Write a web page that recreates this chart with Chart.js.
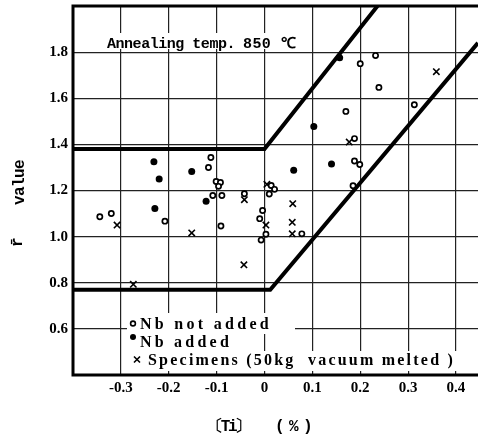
<!DOCTYPE html>
<html><head><meta charset="utf-8">
<script src="https://cdn.jsdelivr.net/npm/chart.js@4.4.1/dist/chart.umd.min.js"></script>
<style>html,body{margin:0;padding:0;background:#fff;}</style>
</head><body>
<canvas id="c" width="478" height="436"></canvas>
<script>
// ---- data ----
const notAddedX = [-0.344,-0.320,-0.208,-0.112,-0.117,-0.101,-0.092,-0.096,-0.089,-0.108,-0.091,-0.042,0.014,0.021,0.010,-0.004,-0.010,0.003,-0.007,0.078,0.188,0.188,0.199,0.185,0.170,0.200,0.232,0.239,0.313];
const notAddedY = [1.086,1.100,1.067,1.343,1.300,1.239,1.235,1.218,1.178,1.178,1.046,1.186,1.222,1.205,1.185,1.113,1.078,1.010,0.985,1.012,1.425,1.328,1.313,1.221,1.543,1.750,1.785,1.647,1.572];
const nbAddedX = [-0.231,-0.220,-0.229,-0.152,-0.122,0.061,0.140,0.103,0.157];
const nbAddedY = [1.325,1.250,1.122,1.282,1.153,1.288,1.315,1.478,1.776];
const specX = [-0.308,-0.274,-0.152,-0.042,-0.043,0.005,0.003,0.059,0.058,0.058,0.177,0.359];
const specY = [1.050,0.793,1.016,1.160,0.878,1.227,1.050,1.143,1.062,1.012,1.410,1.715];
const upperX = [-0.4, 0.0, 0.236];
const upperY = [1.38, 1.38, 2.0];
const lowerX = [-0.4, 0.012, 0.446];
const lowerY = [0.77, 0.77, 1.84];
const xTicks = [-0.3,-0.2,-0.1,0,0.1,0.2,0.3,0.4];
const yTicks = [0.6,0.8,1.0,1.2,1.4,1.6,1.8];
const legendLabels = ['Nb not added','Nb added','Specimens (50kg  vacuum melted )'];
const noteText = ['Annealing temp.', '850 ℃'];
const xTitle = ['〔Ti〕', '(%)'];
const yTitle = ['r\u0304', 'value'];

const pts = (xs, ys) => xs.map((x,i)=>({x, y: ys[i]}));

function fitText(ctx, str, x, y, w){
  ctx.letterSpacing = '0px';
  const m = ctx.measureText(str).width;
  const n = [...str].length;
  const ls = (w - m) / Math.max(1, n);
  ctx.letterSpacing = ls.toFixed(2) + 'px';
  ctx.fillText(str, x, y);
  ctx.letterSpacing = '0px';
}

const decor = {
  id: 'decor',
  beforeDatasetsDraw(chart){
    const ctx = chart.ctx;
    ctx.save();
    // annotation
    ctx.fillStyle = '#fff';
    ctx.fillRect(100, 33, 200, 16);
    ctx.fillStyle = '#000';
    ctx.textBaseline = 'alphabetic';
    ctx.textAlign = 'left';
    ctx.font = 'bold 15px "Liberation Mono"';
    fitText(ctx, noteText[0], 107, 48, 128);
    fitText(ctx, noteText[1], 243, 48, 53);
    // legend backgrounds
    ctx.fillStyle = '#fff';
    ctx.fillRect(127, 313, 168, 21);
    ctx.fillRect(127, 333, 113, 19);
    ctx.fillRect(127, 351, 330, 20);
    ctx.restore();
  },
  afterDatasetsDraw(chart){
    const ctx = chart.ctx, a = chart.chartArea;
    ctx.save();
    // legend markers
    ctx.strokeStyle = '#000'; ctx.fillStyle = '#fff'; ctx.lineWidth = 1.6;
    ctx.beginPath(); ctx.arc(133, 323.5, 2.4, 0, Math.PI*2); ctx.fill(); ctx.stroke();
    ctx.fillStyle = '#000';
    ctx.beginPath(); ctx.arc(133, 337, 3, 0, Math.PI*2); ctx.fill();
    ctx.beginPath();
    ctx.moveTo(134, 356.5); ctx.lineTo(140, 362.5);
    ctx.moveTo(140, 356.5); ctx.lineTo(134, 362.5);
    ctx.stroke();
    // legend text
    ctx.fillStyle = '#000';
    ctx.textBaseline = 'middle'; ctx.textAlign = 'left';
    ctx.font = 'bold 16px "Liberation Serif"';
    fitText(ctx, legendLabels[0], 140, 325, 132);
    fitText(ctx, legendLabels[1], 140, 343, 92);
    fitText(ctx, legendLabels[2], 148, 361, 307);
    // frame
    ctx.strokeStyle = '#000';
    ctx.lineWidth = 3;
    ctx.beginPath();
    ctx.moveTo(a.right, a.top); ctx.lineTo(a.left, a.top); ctx.lineTo(a.left, a.bottom); ctx.lineTo(a.right, a.bottom);
    ctx.stroke();
    // axis titles
    ctx.font = 'bold 16px "Liberation Mono"';
    ctx.textBaseline = 'middle'; ctx.textAlign = 'left';
    fitText(ctx, xTitle[0], 207, 427, 42);
    fitText(ctx, xTitle[1], 275, 427, 42);
    ctx.translate(20, 0);
    ctx.rotate(-Math.PI/2);
    ctx.textAlign = 'left';
    fitText(ctx, yTitle[1], -205, 0, 45);
    fitText(ctx, yTitle[0], -247, -2, 10);
    ctx.restore();
  }
};

const tickFont = {family: '"Liberation Serif"', size: 15, weight: 'bold'};
const noPad = s => { s.paddingLeft = 0; s.paddingRight = 0; s.paddingTop = 0; s.paddingBottom = 0; };

new Chart(document.getElementById('c'), {
  type: 'scatter',
  data: {
    datasets: [
      {label: legendLabels[0], data: pts(notAddedX, notAddedY), pointStyle: 'circle', pointRadius: 2.6, pointBackgroundColor: '#fff', pointBorderColor: '#000', pointBorderWidth: 1.7, order: 0},
      {label: legendLabels[1], data: pts(nbAddedX, nbAddedY), pointStyle: 'circle', pointRadius: 3.5, pointBackgroundColor: '#000', pointBorderColor: '#000', pointBorderWidth: 0, order: 0},
      {label: legendLabels[2], data: pts(specX, specY), pointStyle: 'crossRot', pointRadius: 4.5, pointBorderColor: '#000', pointBorderWidth: 1.6, order: 0},
      {label: 'upper', data: pts(upperX, upperY), showLine: true, pointRadius: 0, borderColor: '#000', borderWidth: 4, order: 1},
      {label: 'lower', data: pts(lowerX, lowerY), showLine: true, pointRadius: 0, borderColor: '#000', borderWidth: 4, order: 1}
    ]
  },
  options: {
    responsive: false,
    animation: false,
    devicePixelRatio: 1,
    layout: {autoPadding: false, padding: {left: 0, right: 0, top: 6, bottom: 0}},
    plugins: {legend: {display: false}, tooltip: {enabled: false}},
    scales: {
      x: {
        type: 'linear', min: -0.4, max: 0.446,
        afterBuildTicks: s => { s.ticks = xTicks.map(v => ({value: v})); },
        afterFit: s => { s.height = 61; noPad(s); },
        grid: {color: '#222', lineWidth: 1.2, drawTicks: false},
        border: {display: false},
        ticks: {color: '#000', font: tickFont, padding: 4, maxRotation: 0,
          callback: v => v === 0 ? '0' : v.toFixed(1)}
      },
      y: {
        type: 'linear', min: 0.4, max: 2.0,
        afterBuildTicks: s => { s.ticks = yTicks.map(v => ({value: v})); },
        afterFit: s => { s.width = 73; noPad(s); },
        grid: {color: '#222', lineWidth: 1.2, drawTicks: false},
        border: {display: false},
        ticks: {color: '#000', font: tickFont, padding: 5,
          callback: v => v.toFixed(1)}
      }
    }
  },
  plugins: [decor]
});
</script>
</body></html>
